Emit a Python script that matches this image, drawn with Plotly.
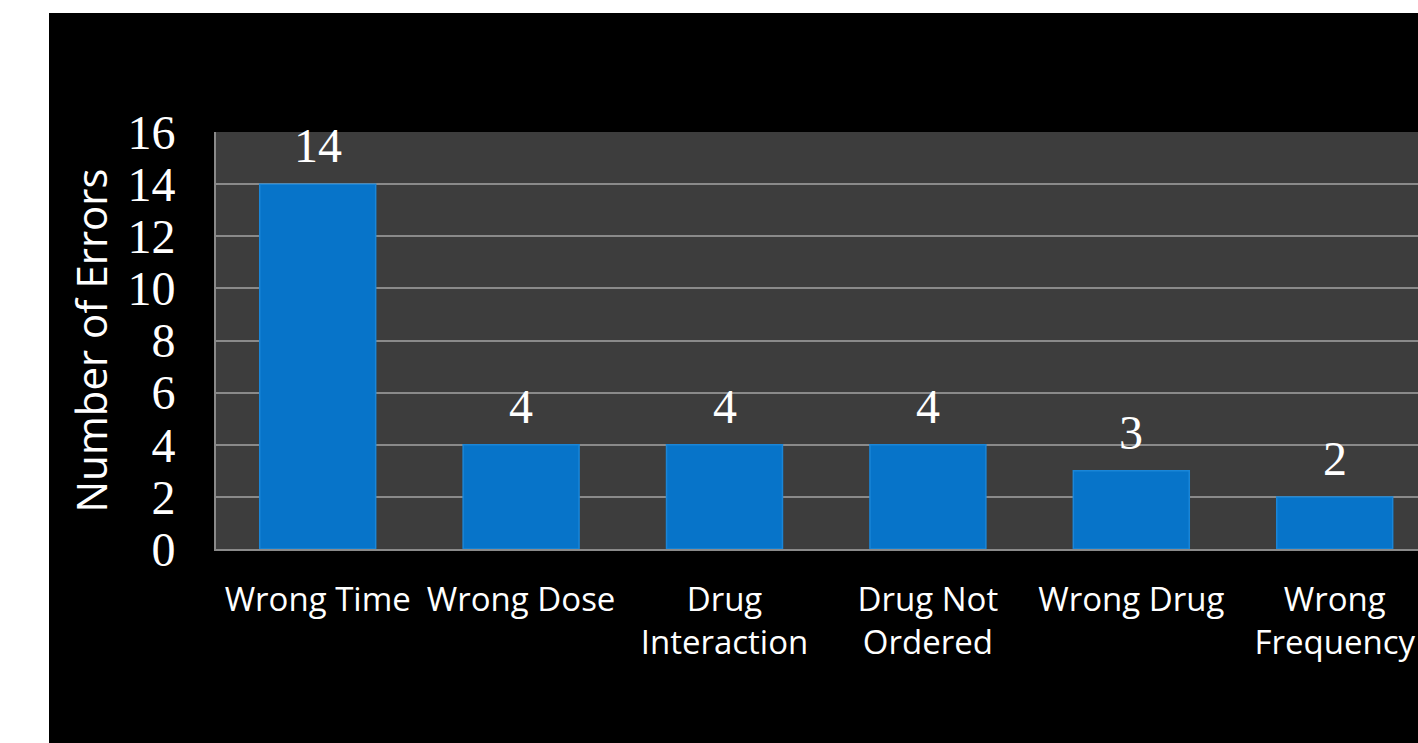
import plotly.graph_objects as go

categories = ["Wrong Time", "Wrong Dose", "Drug<br>Interaction", "Drug Not<br>Ordered", "Wrong Drug", "Wrong<br>Frequency"]
errors = [14, 4, 4, 4, 3, 2]
y_ticks = [0, 2, 4, 6, 8, 10, 12, 14, 16]

W, H = 1418, 743
L, R, T, B = 216, 0, 132, 194
pw = W - L - R
ph = H - T - B

fig = go.Figure()
fig.add_trace(go.Bar(
    x=list(range(len(categories))),
    y=errors,
    marker=dict(color="#0774C9", line=dict(color="#1A86D8", width=1.5)),
    width=0.57,
    hoverinfo="skip",
))

for i, v in enumerate(errors):
    fig.add_annotation(x=i, y=v, text=str(v), showarrow=False, yanchor="bottom",
                       yshift=10, font=dict(family="Liberation Serif", size=48, color="white"))

# y-axis title
fig.add_annotation(xref="paper", yref="paper", x=(90 - L) / pw, y=0.5,
                   text="Number of Errors", textangle=-90, showarrow=False,
                   xanchor="center", yanchor="middle",
                   font=dict(family="Open Sans", size=42, color="white"))

# white strips at left and top edges
fig.add_shape(type="rect", xref="paper", yref="paper", layer="below",
              x0=-L / pw, x1=(49 - L) / pw, y0=-B / ph - 0.01, y1=1 + T / ph + 0.01,
              fillcolor="white", line_width=0)
fig.add_shape(type="rect", xref="paper", yref="paper", layer="below",
              x0=-L / pw, x1=1.01, y0=1 + (T - 13) / ph, y1=1 + T / ph + 0.01,
              fillcolor="white", line_width=0)

fig.update_layout(
    width=W, height=H,
    margin=dict(l=L, r=R, t=T, b=B, pad=0),
    paper_bgcolor="black",
    plot_bgcolor="#3D3D3D",
    showlegend=False,
    xaxis=dict(
        tickmode="array", tickvals=list(range(len(categories))), ticktext=categories,
        range=[-0.5, -0.5 + pw / 203.4],
        showgrid=False, zeroline=False,
        showline=True, linecolor="#8A8A8A", linewidth=2,
        ticks="", ticklabelstandoff=20,
        tickfont=dict(family="Open Sans", size=33, color="white"),
    ),
    yaxis=dict(
        range=[0, 16], tickmode="array", tickvals=y_ticks,
        showgrid=True, gridcolor="#8A8A8A", gridwidth=2,
        zeroline=False,
        showline=True, linecolor="#8A8A8A", linewidth=2,
        ticks="", ticklabelstandoff=29,
        tickfont=dict(family="Liberation Serif", size=48, color="white"),
    ),
)

fig.write_html("out.html")
